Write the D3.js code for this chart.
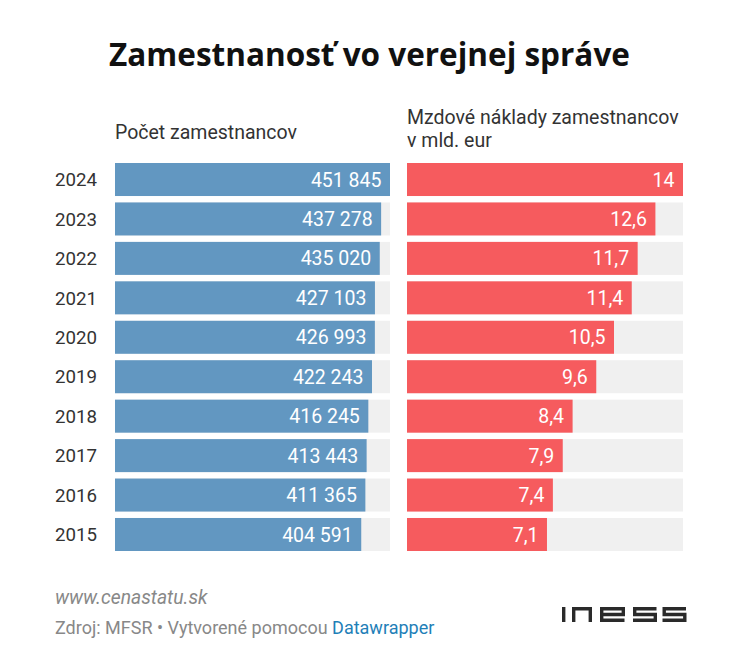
<!DOCTYPE html>
<html><head><meta charset="utf-8">
<script src="https://cdn.jsdelivr.net/npm/d3@7"></script>
<style>
html,body{margin:0;padding:0;background:#fff;}
svg{display:block;}
</style></head>
<body>
<script>
const years = ["2024","2023","2022","2021","2020","2019","2018","2017","2016","2015"];
const employees = [451845,437278,435020,427103,426993,422243,416245,413443,411365,404591];
const wages = [14,12.6,11.7,11.4,10.5,9.6,8.4,7.9,7.4,7.1];
const employeeLabels = ["451 845","437 278","435 020","427 103","426 993","422 243","416 245","413 443","411 365","404 591"];
const wageLabels = ["14","12,6","11,7","11,4","10,5","9,6","8,4","7,9","7,4","7,1"];

const W = 742, H = 647;
const svg = d3.select("body").append("svg").attr("width", W).attr("height", H);
const font = "Roboto, 'Noto Sans', sans-serif";

svg.append("text").attr("x", 369.5).attr("y", 66).attr("text-anchor","middle")
  .attr("font-family","'Open Sans', 'Noto Sans', sans-serif").attr("font-weight",700)
  .attr("font-size",31.5).attr("fill","#111").text("Zamestnanosť vo verejnej správe");

const y = d3.scaleBand().domain(years).range([163, 551]).paddingInner(0.163).paddingOuter(0);
const xL = d3.scaleLinear().domain([0, d3.max(employees)]).range([115, 390]);
const xR = d3.scaleLinear().domain([0, d3.max(wages)]).range([407, 683]);

// headers
svg.append("text").attr("x",115).attr("y",138.5).attr("font-family",font).attr("font-size",19.5)
  .attr("fill","#333").text("Počet zamestnancov");
svg.append("text").attr("x",407).attr("y",124).attr("font-family",font).attr("font-size",19.5)
  .attr("fill","#333").text("Mzdové náklady zamestnancov");
svg.append("text").attr("x",407).attr("y",147).attr("font-family",font).attr("font-size",19.5)
  .attr("fill","#333").text("v mld. eur");

// year labels
svg.append("g").selectAll("text").data(years).join("text")
  .attr("x",55).attr("y",d=>y(d)+y.bandwidth()/2).attr("dy","0.36em")
  .attr("font-family",font).attr("font-size",18.7).attr("fill","#333").text(d=>d);

function panel(values, labels, x, color) {
  const g = svg.append("g");
  g.selectAll("rect.bg").data(years).join("rect").attr("class","bg")
    .attr("x", x.range()[0]).attr("y", d=>y(d)).attr("width", x.range()[1]-x.range()[0])
    .attr("height", y.bandwidth()).attr("fill","#f0f0f0");
  g.selectAll("rect.bar").data(values).join("rect").attr("class","bar")
    .attr("x", x(0)).attr("y", (d,i)=>y(years[i])).attr("width", d=>x(d)-x(0))
    .attr("height", y.bandwidth()).attr("fill", color);
  g.selectAll("text").data(values).join("text")
    .attr("x", d=>x(d)-8.5).attr("y",(d,i)=>y(years[i])+y.bandwidth()/2).attr("dy","0.36em")
    .attr("text-anchor","end").attr("font-family",font).attr("font-size",19.5)
    .attr("fill","#fff").text((d,i)=>labels[i]);
}
panel(employees, employeeLabels, xL, "#6297c1");
panel(wages, wageLabels, xR, "#f65b5e");

// footer
svg.append("text").attr("x",55).attr("y",603.5).attr("font-family",font).attr("font-style","italic")
  .attr("font-size",19.3).attr("fill","#888").text("www.cenastatu.sk");
const src = svg.append("text").attr("x",55).attr("y",633.5).attr("font-family",font)
  .attr("font-size",18).attr("fill","#888");
src.append("tspan").text("Zdroj: MFSR • Vytvorené pomocou ");
src.append("tspan").attr("fill","#1f80b8").text("Datawrapper");

// logo
const logo = svg.append("g").attr("fill","none").attr("stroke","#2a2a2a").attr("stroke-width",3.4);
logo.append("path").attr("d","M563.7,607 V622");
logo.append("path").attr("d","M573.7,622 V608.7 H590.3 V622");
logo.append("path").attr("d","M601.7,614.5 H623.3 V608.7 H601.7 V620.3 H624.5");
logo.append("path").attr("d","M656.5,608.7 H634.7 V614.5 H655.3 V620.3 H633");
logo.append("path").attr("d","M686,608.7 H664.2 V614.5 H684.8 V620.3 H662.5");
</script>
</body></html>
